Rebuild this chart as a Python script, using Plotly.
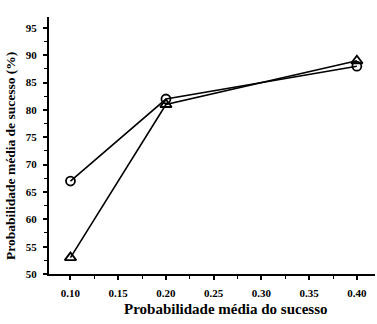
import plotly.graph_objects as go

x_vals = [0.10, 0.20, 0.40]
circle_vals = [67, 82, 88]
triangle_vals = [53, 81, 89]
x_ticks = [0.10, 0.15, 0.20, 0.25, 0.30, 0.35, 0.40]
x_ticklabels = ["0.10", "0.15", "0.20", "0.25", "0.30", "0.35", "0.40"]
y_ticks = [50, 55, 60, 65, 70, 75, 80, 85, 90, 95]
x_title = "Probabilidade média do sucesso"
y_title = "Probabilidade média de sucesso (%)"

font_fam = "Liberation Serif"
L, R, T, B = 49, 2, 17, 50
W, H = 377, 324
pw, ph = W - L - R, H - T - B

fig = go.Figure()
fig.add_trace(go.Scatter(x=x_vals, y=circle_vals, mode="lines+markers",
                         line=dict(color="black", width=1.6),
                         marker=dict(symbol="circle-open", size=9, color="black", line=dict(width=1.8)),
                         showlegend=False))
fig.add_trace(go.Scatter(x=x_vals, y=triangle_vals, mode="lines+markers",
                         line=dict(color="black", width=1.6),
                         marker=dict(symbol="triangle-up-open", size=10, color="black", line=dict(width=1.8)),
                         showlegend=False))

fig.update_layout(
    width=W, height=H,
    margin=dict(l=L, r=R, t=T, b=B),
    paper_bgcolor="white", plot_bgcolor="white",
    font=dict(family=font_fam, color="black", size=11),
    xaxis=dict(range=[0.0775, 0.419], tickvals=x_ticks, ticktext=x_ticklabels,
               showline=True, linecolor="black", linewidth=2, showgrid=False, zeroline=False,
               ticks="outside", ticklen=4, tickwidth=1.5, tickcolor="black", ticklabelstandoff=4,
               tickfont=dict(family=font_fam, size=11, weight="bold"),
               minor=dict(ticks="outside", dtick=0.025, tick0=0.1, ticklen=3, tickcolor="black", tickwidth=1.2)),
    yaxis=dict(range=[50, 97], tickvals=y_ticks,
               showline=True, linecolor="black", linewidth=2, showgrid=False, zeroline=False,
               ticks="outside", ticklen=4, tickwidth=1.5, tickcolor="black", ticklabelstandoff=4,
               tickfont=dict(family=font_fam, size=11, weight="bold"),
               minor=dict(ticks="outside", dtick=2.5, tick0=50, ticklen=3, tickcolor="black", tickwidth=1.2)),
    annotations=[
        dict(text=x_title, xref="paper", yref="paper",
             x=(226 - L) / pw, y=(H - B - 309) / ph, showarrow=False,
             xanchor="center", yanchor="middle",
             font=dict(family=font_fam, size=15, weight="bold")),
        dict(text=y_title, xref="paper", yref="paper", textangle=-90,
             x=(10 - L) / pw, y=(H - B - 156) / ph, showarrow=False,
             xanchor="center", yanchor="middle",
             font=dict(family=font_fam, size=13.5, weight="bold")),
    ],
)

fig.write_html("out.html")
